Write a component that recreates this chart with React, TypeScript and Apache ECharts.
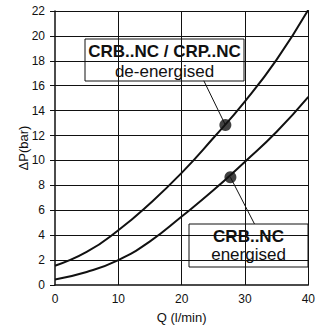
import React, { useEffect, useRef } from "react";
import * as echarts from "echarts";

const flowQ = [0, 5, 10, 15, 20, 25, 30, 35, 40];
const deEnergised = [1.55, 2.65, 4.4, 6.55, 9.0, 11.8, 14.75, 18.1, 22.1];
const energised = [0.45, 1.05, 2.0, 3.5, 5.5, 7.6, 9.9, 12.3, 15.1];
const markerDeEnergised = [26.9, 12.85];
const markerEnergised = [27.7, 8.65];
const leaderDeEnergisedEnd = [23.5, 16.4];
const leaderEnergisedEnd = [31.5, 4.9];
const labelDeEnergised = ["CRB..NC / CRP..NC", "de-energised"];
const labelEnergised = ["CRB..NC", "energised"];
const xGridTicks = [10, 20, 30, 40];
const yGridTicks = [2, 4, 6, 8, 10, 12, 14, 16, 18, 20, 22];
const xName = "Q (l/min)";
const yName = "ΔP(bar)";

const FONT = "'Liberation Sans', Arial, sans-serif";
const INK = "#111";

export default function App() {
  const ref = useRef<HTMLDivElement>(null);
  useEffect(() => {
    if (!ref.current) return;
    const chart = echarts.init(ref.current, undefined, { renderer: "svg" });
    const lineSeries = (data: number[], marker: number[], end: number[]) => ({
      type: "line",
      data: flowQ.map((q, i) => [q, data[i]]),
      smooth: 0.5,
      showSymbol: false,
      lineStyle: { color: INK, width: 2 },
      z: 3,
      markLine: {
        silent: true,
        symbol: ["none", "none"],
        label: { show: false },
        lineStyle: { color: INK, width: 1, type: "solid" },
        data: [[{ coord: marker }, { coord: end }]],
      },
    });
    const box = (
      x: number,
      y: number,
      w: number,
      h: number,
      lines: string[],
      y1: number,
      y2: number
    ) => ({
      type: "group",
      children: [
        {
          type: "rect",
          shape: { x, y, width: w, height: h },
          style: { fill: "#fff", stroke: INK, lineWidth: 1 },
        },
        {
          type: "text",
          x: x + w / 2,
          y: y1,
          style: {
            text: lines[0],
            font: `bold 17px ${FONT}`,
            fill: INK,
            textAlign: "center",
            textVerticalAlign: "middle",
          },
        },
        {
          type: "text",
          x: x + w / 2,
          y: y2,
          style: {
            text: lines[1],
            font: `17px ${FONT}`,
            fill: INK,
            textAlign: "center",
            textVerticalAlign: "middle",
          },
        },
      ],
    });
    chart.setOption({
      animation: false,
      textStyle: { fontFamily: FONT },
      grid: { left: 55, right: 4, top: 11, bottom: 47 },
      xAxis: {
        type: "value",
        min: 0,
        max: 40,
        interval: 10,
        name: xName,
        nameLocation: "middle",
        nameGap: 26,
        nameMoveOverlap: false,
        nameTextStyle: { fontSize: 13, color: INK },
        axisLine: { show: true, onZero: false, lineStyle: { color: INK, width: 1.5 } },
        axisTick: { show: false },
        axisLabel: { fontSize: 12, color: INK, margin: 8, showMinLabel: true, showMaxLabel: true },
        splitLine: { show: false },
      },
      yAxis: {
        type: "value",
        min: 0,
        max: 22,
        interval: 2,
        name: yName,
        nameLocation: "middle",
        nameGap: 25,
        nameMoveOverlap: false,
        nameTextStyle: { fontSize: 13, color: INK },
        axisLine: { show: true, onZero: false, lineStyle: { color: INK, width: 1.5 } },
        axisTick: { show: true, length: 5, lineStyle: { color: INK, width: 1 } },
        axisLabel: { fontSize: 12, color: INK, margin: 10 },
        splitLine: { show: false },
      },
      series: [
        {
          type: "line",
          data: [],
          z: 1,
          markLine: {
            silent: true,
            symbol: ["none", "none"],
            label: { show: false },
            lineStyle: { color: INK, width: 1, type: "solid" },
            data: [
              ...xGridTicks.map((v) => ({ xAxis: v })),
              ...yGridTicks.map((v) => ({ yAxis: v })),
            ],
          },
        },
        lineSeries(deEnergised, markerDeEnergised, leaderDeEnergisedEnd),
        lineSeries(energised, markerEnergised, leaderEnergisedEnd),
        {
          type: "scatter",
          data: [markerDeEnergised, markerEnergised],
          symbolSize: 12,
          itemStyle: { color: INK },
          z: 4,
        },
      ],
      graphic: [
        box(85, 39, 159, 42, labelDeEnergised, 51, 71),
        box(189, 224, 119, 43, labelEnergised, 236, 254),
      ],
    });
    return () => chart.dispose();
  }, []);
  return (
    <div
      ref={ref}
      style={{ position: "fixed", left: 0, top: 0, width: 318, height: 332, background: "#fff" }}
    />
  );
}
